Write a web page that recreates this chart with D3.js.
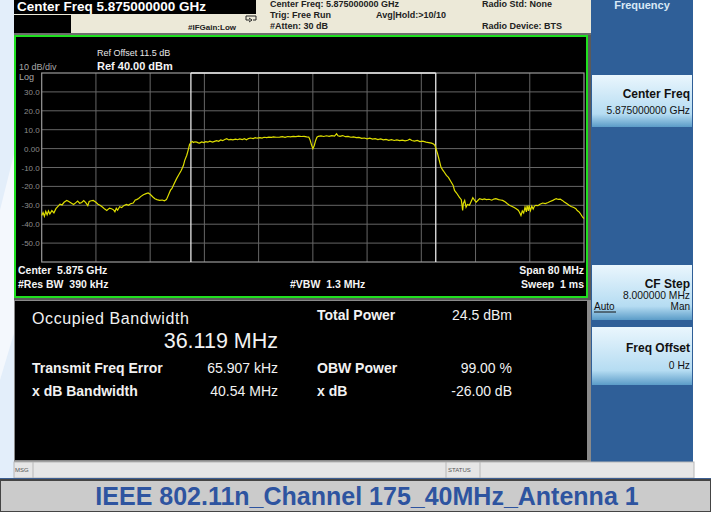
<!DOCTYPE html>
<html>
<head>
<meta charset="utf-8">
<script src="https://cdn.jsdelivr.net/npm/d3@7"></script>
<style>
  body { margin: 0; background: #fff; }
  svg { display: block; font-family: "Liberation Sans", Arial, sans-serif; }
  text { white-space: pre; }
</style>
</head>
<body>
<svg id="chart" width="711" height="512"></svg>
<script>
// trace: offset from centre (MHz) and level (dBm)
const freqMHz = [
  -40.0, -39.8, -39.6, -39.4, -39.2, -39.0, -38.8, -38.5, -38.2, -37.9, -37.6, -37.3, -37.0, -36.7, -36.3, -36.0,
  -35.6, -35.3, -35.0, -34.7, -34.4, -34.1, -33.8, -33.5, -33.2, -33.0, -32.7, -32.4, -32.0, -31.7, -31.4, -31.0,
  -30.7, -30.4, -30.0, -29.7, -29.4, -29.2, -29.0, -28.8, -28.5, -28.2, -27.9, -27.5, -27.2, -26.9, -26.5, -26.2,
  -26.0, -25.7, -25.4, -25.0, -24.6, -24.3, -24.0, -23.6, -23.3, -23.0, -22.6, -22.2, -21.9, -21.6, -21.3, -21.0,
  -20.8, -20.5, -20.1, -19.8, -19.4, -19.1, -18.9, -18.6, -18.4, -18.2, -18.0, -17.8, -17.6, -17.4, -17.1, -16.9,
  -16.7, -16.4, -16.1, -15.8, -15.5, -15.2, -14.8, -14.5, -14.2, -13.9, -13.6, -13.3, -13.0, -12.7, -12.4, -12.1,
  -11.8, -11.4, -11.1, -10.8, -10.4, -10.1, -9.8, -9.5, -9.2, -8.8, -8.5, -8.2, -7.8, -7.5, -7.2, -6.8,
  -6.5, -6.1, -5.8, -5.4, -4.9, -4.5, -4.1, -3.7, -3.3, -2.9, -2.5, -2.1, -1.7, -1.3, -0.9, -0.6,
  -0.4, -0.2, 0.0, 0.2, 0.4, 0.6, 0.8, 1.2, 1.6, 2.0, 2.4, 2.8, 3.2, 3.5, 3.7, 4.0,
  4.4, 4.8, 5.2, 5.6, 6.0, 6.4, 6.8, 7.2, 7.6, 8.0, 8.4, 8.8, 9.2, 9.6, 10.0, 10.4,
  10.8, 11.2, 11.6, 12.0, 12.4, 12.8, 13.2, 13.6, 14.0, 14.3, 14.6, 15.0, 15.4, 15.8, 16.2, 16.7,
  17.1, 17.5, 17.8, 18.0, 18.2, 18.4, 18.6, 18.9, 19.1, 19.3, 19.7, 20.0, 20.4, 20.7, 20.9, 21.2,
  21.6, 21.9, 22.1, 22.2, 22.4, 22.6, 22.8, 23.1, 23.3, 23.6, 23.9, 24.1, 24.4, 24.6, 25.0, 25.3,
  25.6, 26.0, 26.4, 26.7, 27.0, 27.4, 27.7, 28.0, 28.4, 28.7, 29.0, 29.4, 29.7, 30.0, 30.3, 30.5,
  30.7, 30.9, 31.1, 31.3, 31.5, 31.6, 31.8, 31.9, 32.1, 32.3, 32.5, 32.7, 32.9, 33.2, 33.5, 33.9,
  34.3, 34.7, 35.0, 35.4, 35.7, 35.9, 36.2, 36.5, 36.8, 37.1, 37.5, 37.8, 38.1, 38.5, 38.8, 39.0,
  39.3, 39.5, 39.8, 40.0
];
const levelDbm = [
  -35.4, -33.8, -35.8, -33.2, -35.0, -33.0, -34.6, -32.8, -34.0, -31.8, -30.6, -29.4, -29.8, -28.4, -27.4, -28.0,
  -28.9, -29.6, -28.7, -27.8, -28.9, -28.5, -27.5, -28.6, -30.2, -28.0, -27.6, -27.4, -28.4, -29.4, -30.0, -31.0,
  -32.0, -32.7, -31.5, -31.8, -32.4, -33.4, -31.6, -32.6, -30.8, -31.2, -30.2, -29.5, -30.0, -29.2, -28.8, -27.2,
  -27.0, -26.4, -25.4, -24.4, -23.8, -23.5, -24.2, -25.6, -26.5, -27.0, -27.4, -27.2, -27.6, -27.0, -24.5, -22.0,
  -21.2, -18.8, -15.9, -14.0, -11.5, -9.0, -6.2, -3.5, -0.9, 2.0, 3.3, 3.8, 3.2, 3.6, 3.4, 3.0,
  2.9, 3.5, 3.2, 3.7, 3.4, 3.9, 3.4, 3.8, 4.2, 3.9, 4.6, 4.2, 4.8, 5.2, 4.6, 4.9,
  4.6, 5.0, 4.7, 5.1, 4.8, 5.2, 4.7, 5.3, 5.6, 5.3, 5.8, 5.5, 5.8, 5.6, 6.0, 5.8,
  6.1, 5.9, 6.2, 6.0, 6.1, 6.3, 6.0, 6.4, 6.2, 6.5, 6.3, 6.6, 6.4, 6.5, 6.2, 6.1,
  4.5, 2.0, 0.0, 1.5, 4.2, 6.0, 6.5, 6.7, 6.4, 6.8, 6.5, 6.9, 6.6, 7.9, 6.8, 6.5,
  6.9, 6.3, 6.5, 6.0, 6.2, 5.8, 5.9, 5.4, 5.6, 5.2, 5.5, 5.0, 5.3, 4.8, 5.1, 4.6,
  4.9, 4.4, 4.7, 4.3, 4.6, 4.2, 4.5, 4.1, 4.4, 5.0, 4.3, 4.0, 4.3, 3.7, 3.9, 3.4,
  3.2, 2.9, 2.4, 1.7, -0.5, -2.7, -5.5, -9.8, -11.0, -12.0, -14.2, -15.2, -17.7, -19.5, -22.1, -23.5,
  -25.7, -27.0, -32.7, -29.0, -27.4, -31.0, -29.6, -30.0, -28.4, -26.0, -27.5, -28.3, -27.2, -26.5, -27.0, -26.6,
  -27.0, -26.8, -27.3, -26.7, -26.5, -27.0, -27.2, -27.4, -28.3, -29.2, -30.0, -30.6, -31.2, -31.8, -32.6, -33.8,
  -35.4, -33.0, -34.1, -31.0, -33.5, -30.2, -33.0, -30.0, -32.8, -30.5, -32.0, -30.4, -30.0, -30.2, -29.4, -28.8,
  -29.1, -28.5, -28.0, -27.4, -26.8, -26.5, -26.9, -26.7, -27.4, -28.2, -29.2, -30.0, -30.6, -31.2, -31.8, -32.8,
  -33.6, -34.6, -36.3, -37.0
];
const yTickValues = [30, 20, 10, 0, -10, -20, -30, -40, -50];
const yTickLabels = ["30.0", "20.0", "10.0", "0.00", "-10.0", "-20.0", "-30.0", "-40.0", "-50.0"];
const xGridValues = [-32, -24, -16, -8, 0, 8, 16, 24, 32];
const obwEdges = [-17.99, 18.13];   // occupied bandwidth markers (MHz)

const svg = d3.select('#chart');

// page background bits
svg.append('rect').attr('x', 0).attr('y', 0).attr('width', 711).attr('height', 512).attr('fill', '#ffffff');
svg.append('rect').attr('x', 0).attr('y', 0).attr('width', 15).attr('height', 480).attr('fill', '#e3eefa');
svg.append('path').attr('d', 'M0,210 L15,150 L15,330 L0,380 Z').attr('fill', '#f4f8fd');

// header strip
svg.append('rect').attr('x', 14).attr('y', 0).attr('width', 577).attr('height', 34).attr('fill', '#ece9d8');
svg.append('rect').attr('x', 14).attr('y', 33).attr('width', 577).attr('height', 2).attr('fill', '#6e6e6e');
svg.append('rect').attr('x', 14).attr('y', 0).attr('width', 242).attr('height', 14).attr('fill', '#000');
svg.append('rect').attr('x', 14).attr('y', 15).attr('width', 57).attr('height', 18).attr('fill', '#000');
svg.append('text').attr('x', 17).attr('y', 11).attr('fill', '#fff').attr('font-size', 13.5).attr('font-weight', 'bold')
  .text('Center Freq 5.875000000 GHz');
svg.append('text').attr('x', 188).attr('y', 30).attr('fill', '#222').attr('font-size', 8).attr('font-weight', 'bold')
  .text('#IFGain:Low');
svg.append('path').attr('d', 'M246,16 h10 v4 h-3 M249,18 l3,2 l-3,2 M246,16 v4 h4')
  .attr('fill', 'none').attr('stroke', '#222').attr('stroke-width', 1);

const hdr = [
  ['Center Freq: 5.875000000 GHz', 270, 7], ['Trig: Free Run', 270, 18], ['#Atten: 30 dB', 270, 29],
  ['Avg|Hold:>10/10', 376, 18], ['Radio Std: None', 482, 7], ['Radio Device: BTS', 482, 29]
];
svg.selectAll('text.hdr').data(hdr).enter().append('text').attr('class', 'hdr')
  .attr('x', d => d[1]).attr('y', d => d[2]).attr('fill', '#222').attr('font-size', 9).attr('font-weight', 'bold')
  .text(d => d[0]);

// plot frame
svg.append('rect').attr('x', 14).attr('y', 35).attr('width', 577).attr('height', 265).attr('fill', '#5a5a5a');
svg.append('rect').attr('x', 15).attr('y', 36).attr('width', 572).attr('height', 261)
  .attr('fill', '#000').attr('stroke', '#1fe01f').attr('stroke-width', 2);

const x = d3.scaleLinear().domain([-40, 40]).range([41.7, 584]);
const y = d3.scaleLinear().domain([-60, 40]).range([262, 73]);

const grid = svg.append('g');
grid.selectAll('line.h').data(yTickValues).enter().append('line')
  .attr('x1', x(-40)).attr('x2', x(40)).attr('y1', d => y(d)).attr('y2', d => y(d))
  .attr('stroke', '#666').attr('stroke-width', 1);
grid.selectAll('line.v').data(xGridValues).enter().append('line')
  .attr('y1', y(40)).attr('y2', y(-60)).attr('x1', d => x(d)).attr('x2', d => x(d))
  .attr('stroke', '#666').attr('stroke-width', 1);
grid.append('rect').attr('x', x(-40)).attr('y', y(40)).attr('width', x(40) - x(-40)).attr('height', y(-60) - y(40))
  .attr('fill', 'none').attr('stroke', '#9a9a9a').attr('stroke-width', 1.2);

// y labels through an axis
const yAxis = d3.axisLeft(y).tickValues(yTickValues).tickSize(0).tickPadding(0)
  .tickFormat((d, i) => yTickLabels[i]);
svg.append('g').attr('transform', `translate(${x(-40) - 2},0)`).call(yAxis)
  .call(g => g.select('.domain').remove())
  .call(g => g.selectAll('text').attr('fill', '#8c8c8c').attr('font-size', 8)
    .attr('font-family', '"Liberation Sans", Arial, sans-serif'));

// OBW markers
svg.append('line').attr('x1', x(obwEdges[0])).attr('x2', x(obwEdges[1])).attr('y1', y(40)).attr('y2', y(40))
  .attr('stroke', '#e8e8e8').attr('stroke-width', 1.5);
svg.selectAll('line.obw').data(obwEdges).enter().append('line')
  .attr('x1', d => x(d)).attr('x2', d => x(d)).attr('y1', y(40)).attr('y2', y(-60))
  .attr('stroke', '#e8e8e8').attr('stroke-width', 1.3);

// trace
const trace = freqMHz.map((f, i) => [f, levelDbm[i]]);
svg.append('path').datum(trace)
  .attr('d', d3.line().x(d => x(d[0])).y(d => y(d[1])))
  .attr('fill', 'none').attr('stroke', '#dede00').attr('stroke-width', 1.2);

// screen annotations
const ann = [
  ['10 dB/div', 19, 70, 9, 'normal', '#a8a8a8', 'start'],
  ['Log', 19, 80, 9, 'normal', '#a8a8a8', 'start'],
  ['Ref Offset 11.5 dB', 97, 56, 9, 'normal', '#e8e8e8', 'start'],
  ['Ref 40.00 dBm', 97, 70, 11, 'bold', '#f4f4f4', 'start'],
  ['Center  5.875 GHz', 18, 274, 10.5, 'bold', '#f4f4f4', 'start'],
  ['#Res BW  390 kHz', 18, 288, 10.5, 'bold', '#f4f4f4', 'start'],
  ['#VBW  1.3 MHz', 290, 288, 10.5, 'bold', '#f4f4f4', 'start'],
  ['Span 80 MHz', 584, 274, 10.5, 'bold', '#f4f4f4', 'end'],
  ['Sweep  1 ms', 584, 288, 10.5, 'bold', '#f4f4f4', 'end']
];
svg.selectAll('text.ann').data(ann).enter().append('text').attr('class', 'ann')
  .attr('x', d => d[1]).attr('y', d => d[2]).attr('font-size', d => d[3]).attr('font-weight', d => d[4])
  .attr('fill', d => d[5]).attr('text-anchor', d => d[6]).text(d => d[0]);

// measurement table
svg.append('rect').attr('x', 14).attr('y', 300).attr('width', 577).attr('height', 162).attr('fill', '#8a8a8a');
svg.append('rect').attr('x', 15).attr('y', 301).attr('width', 572).attr('height', 159).attr('fill', '#000');
const meas = [
  ['Occupied Bandwidth', 32, 324, 16, 'normal', 'start', 0.6],
  ['36.119 MHz', 278, 348, 21.5, 'normal', 'end', 0],
  ['Total Power', 317, 320, 14, 'bold', 'start', 0],
  ['24.5 dBm', 512, 320, 14, 'normal', 'end', 0],
  ['Transmit Freq Error', 32, 373, 14, 'bold', 'start', 0],
  ['65.907 kHz', 278, 373, 14, 'normal', 'end', 0],
  ['OBW Power', 317, 373, 14, 'bold', 'start', 0],
  ['99.00 %', 512, 373, 14, 'normal', 'end', 0],
  ['x dB Bandwidth', 32, 396, 14, 'bold', 'start', 0],
  ['40.54 MHz', 278, 396, 14, 'normal', 'end', 0],
  ['x dB', 317, 396, 14, 'bold', 'start', 0],
  ['-26.00 dB', 512, 396, 14, 'normal', 'end', 0]
];
svg.selectAll('text.meas').data(meas).enter().append('text').attr('class', 'meas')
  .attr('x', d => d[1]).attr('y', d => d[2]).attr('font-size', d => d[3]).attr('font-weight', d => d[4])
  .attr('text-anchor', d => d[5]).attr('letter-spacing', d => d[6]).attr('fill', '#f2f2f2').text(d => d[0]);

// softkey panel
svg.append('rect').attr('x', 591).attr('y', 0).attr('width', 102).attr('height', 462).attr('fill', '#2f5f98');
const grad = svg.append('defs').append('linearGradient').attr('id', 'key').attr('x1', 0).attr('x2', 0).attr('y1', 0).attr('y2', 1);
grad.append('stop').attr('offset', '0%').attr('stop-color', '#eaf6fd');
grad.append('stop').attr('offset', '75%').attr('stop-color', '#b5dcf2');
grad.append('stop').attr('offset', '100%').attr('stop-color', '#5b9cc8');
svg.append('text').attr('x', 642).attr('y', 9).attr('text-anchor', 'middle').attr('fill', '#d8e8f6')
  .attr('font-size', 11).attr('font-weight', 'bold').text('Frequency');
const keys = [[75, 52], [265, 55], [327, 58]];
svg.selectAll('rect.key').data(keys).enter().append('rect').attr('class', 'key')
  .attr('x', 592).attr('y', d => d[0]).attr('width', 100).attr('height', d => d[1]).attr('fill', 'url(#key)');
const keyText = [
  ['Center Freq', 690, 98, 12, 'bold', 'end'],
  ['5.875000000 GHz', 690, 114, 10.3, 'normal', 'end'],
  ['CF Step', 690, 288, 12, 'bold', 'end'],
  ['8.000000 MHz', 690, 299, 10.3, 'normal', 'end'],
  ['Auto', 594, 310, 10, 'normal', 'start'],
  ['Man', 690, 310, 10, 'normal', 'end'],
  ['Freq Offset', 690, 352, 12, 'bold', 'end'],
  ['0 Hz', 690, 369, 10.3, 'normal', 'end']
];
svg.selectAll('text.key').data(keyText).enter().append('text').attr('class', 'key')
  .attr('x', d => d[1]).attr('y', d => d[2]).attr('font-size', d => d[3]).attr('font-weight', d => d[4])
  .attr('text-anchor', d => d[5]).attr('fill', '#111').text(d => d[0]);
svg.append('line').attr('x1', 594).attr('x2', 616).attr('y1', 312).attr('y2', 312).attr('stroke', '#111').attr('stroke-width', 1);

// status bar
svg.append('rect').attr('x', 14).attr('y', 462).attr('width', 680).attr('height', 16).attr('fill', '#e6e6e6')
  .attr('stroke', '#b8b8b8').attr('stroke-width', 1);
svg.append('line').attr('x1', 33).attr('x2', 33).attr('y1', 462).attr('y2', 478).attr('stroke', '#b8b8b8');
svg.append('line').attr('x1', 446).attr('x2', 446).attr('y1', 462).attr('y2', 478).attr('stroke', '#b8b8b8');
svg.append('line').attr('x1', 480).attr('x2', 480).attr('y1', 462).attr('y2', 478).attr('stroke', '#b8b8b8');
svg.append('text').attr('x', 15).attr('y', 472).attr('font-size', 6).attr('fill', '#555').text('MSG');
svg.append('text').attr('x', 448).attr('y', 472).attr('font-size', 6).attr('fill', '#555').text('STATUS');
svg.append('rect').attr('x', 0).attr('y', 478).attr('width', 711).attr('height', 2).attr('fill', '#3d5f92');

// caption
svg.append('rect').attr('x', 0).attr('y', 480).attr('width', 711).attr('height', 32).attr('fill', '#cbcbcb');
svg.append('rect').attr('x', 0).attr('y', 480).attr('width', 711).attr('height', 32).attr('fill', 'none')
  .attr('stroke', '#444').attr('stroke-width', 2);
svg.append('text').attr('x', 367).attr('y', 505).attr('text-anchor', 'middle').attr('font-size', 25)
  .attr('font-weight', 'bold').attr('fill', '#2e54a0').text('IEEE 802.11n_Channel 175_40MHz_Antenna 1');
</script>
</body>
</html>
